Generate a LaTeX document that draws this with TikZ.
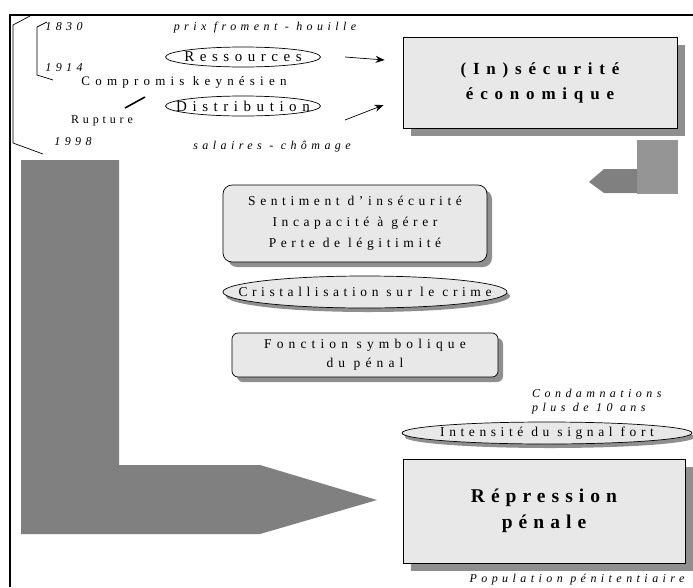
\documentclass[tikz,border=0pt]{standalone}
\usepackage{fontspec}
\setmainfont{Liberation Serif}[LetterSpace=34]
\usetikzlibrary{calc}
\usetikzlibrary{shapes.geometric}
\usetikzlibrary{arrows.meta,shadows,positioning}

\definecolor{boxgray}{HTML}{E8E8E8}
\definecolor{shadegray}{HTML}{8F8F8F}
\definecolor{biggray}{HTML}{808080}
\definecolor{bargray}{HTML}{959595}

\tikzset{
  txt/.style={inner sep=0pt,font=\fontsize{13.5}{15}\selectfont},
  itl/.style={inner sep=0pt,font=\fontsize{12}{14}\selectfont\itshape\addfontfeatures{LetterSpace=37}},
  bigbox/.style={rectangle,draw=black,line width=0.8pt,fill=boxgray,align=center,
    drop shadow={shadow xshift=8pt,shadow yshift=-8pt,fill=shadegray,opacity=1}},
  roundbox/.style={rectangle,rounded corners=9pt,draw=black,line width=0.7pt,fill=boxgray,align=center,
    font=\fontsize{13.5}{21}\selectfont,
    drop shadow={shadow xshift=5pt,shadow yshift=-5pt,fill=shadegray,opacity=1}},
  oval/.style={ellipse,draw=black,line width=0.7pt,inner sep=0pt},
  shadedoval/.style={oval,fill=boxgray,font=\fontsize{13.5}{15}\selectfont,
    drop shadow={shadow xshift=3pt,shadow yshift=-4pt,fill=shadegray,opacity=1}},
  connector/.style={line width=0.7pt,-{Stealth[length=9pt,width=7pt]}}
}

\begin{document}
\begin{tikzpicture}[x=1pt,y=-1pt]

\useasboundingbox (0,0) rectangle (693,587);

% frame
\draw[line width=1.6pt] (10,587) -- (10,15) -- (693,15);

%%%%%%%%%%%%%%%%%%%
% brackets and dates
\draw[line width=0.7pt] (30,16) -- (13,25) -- (13,143) -- (43,154);
\draw[line width=0.7pt] (47,22) -- (37,27) -- (37,75) -- (53,80);
\node[itl] at (64,27) (d1830) {1830};
\node[itl] at (64,68) (d1914) {1914};
\node[itl] at (73,142) (d1998) {1998};

\node[itl] at (265,28) (prix) {prix froment - houille};
\node[oval,minimum width=155pt,minimum height=20pt,font=\fontsize{15}{17}\selectfont\addfontfeatures{LetterSpace=37}] at (243,57) (ress) {\makebox[0pt]{Ressources}};
\node[txt,font=\fontsize{13}{15}\selectfont\addfontfeatures{LetterSpace=40}] at (184,82) (kompromis) {Compromis keynésien};
\node[oval,minimum width=155pt,minimum height=20pt,font=\fontsize{15}{17}\selectfont\addfontfeatures{LetterSpace=37}] at (243,106) (distr) {\makebox[0pt]{Distribution}};
\node[txt,font=\fontsize{12}{14}\selectfont\addfontfeatures{LetterSpace=32}] at (102,121) (rupture) {Rupture};
\node[itl] at (272,147) (salaires) {salaires - chômage};
\draw[line width=1.6pt] (125,108) -- (145,97);

%%%%%%%%%%%%%%%%%%%
% economic insecurity
\node[bigbox,minimum width=274pt,minimum height=91pt,font=\fontsize{17}{25}\selectfont\bfseries\addfontfeatures{LetterSpace=40}] at (540,82.5) (insec) {(In)sécurité\\économique};

\coordinate (a1s) at (345,57);
\coordinate (a2s) at (345,120);
\draw[connector] (a1s) -- ($(insec.west)+(-18,-22.5)$);
\draw[connector] (a2s) -- ($(insec.west)+(-19,22.5)$);

% small gray turn
\fill[bargray] (637,140) rectangle (678,194);
\fill[biggray] (637,169) -- (604,169) -- (589,182) -- (604,193) -- (637,193) -- cycle;

%%%%%%%%%%%%%%%%%%%
% big gray L
\fill[biggray] (21,160) -- (119,160) -- (119,465) -- (260,465) -- (377,500) -- (260,534) -- (21,534) -- cycle;

%%%%%%%%%%%%%%%%%%%
% middle chain
\node[roundbox,minimum width=264pt,minimum height=77pt] at (355,223.5) (sentiment)
  {Sentiment d'insécurité\\Incapacité à gérer\\Perte de légitimité};
\node[shadedoval,minimum width=284pt,minimum height=32pt] at (365,292) (cristal) {\makebox[0pt]{Cristallisation sur le crime}};
\node[roundbox,rounded corners=6pt,font=\fontsize{13.5}{19}\selectfont\addfontfeatures{LetterSpace=38},minimum width=266pt,minimum height=44pt] at (365,355) (fonction)
  {Fonction symbolique\\du pénal};

%%%%%%%%%%%%%%%%%%%
% penal repression
\node[itl,anchor=west] at (532,393) (condamn) {Condamnations};
\node[itl,anchor=west] at (532,409) (plusde) {plus de 10 ans};
\node[shadedoval,minimum width=290pt,minimum height=22pt] at (547,433) (intensite) {\makebox[0pt]{Intensité du signal fort}};
\node[bigbox,minimum width=282pt,minimum height=104pt,font=\fontsize{19.5}{26}\selectfont\bfseries\addfontfeatures{LetterSpace=31}] at (544,511) (repr) {Répression\\pénale};
\node[itl] at (577,580) (popul) {Population pénitentiaire};

\end{tikzpicture}
\end{document}
